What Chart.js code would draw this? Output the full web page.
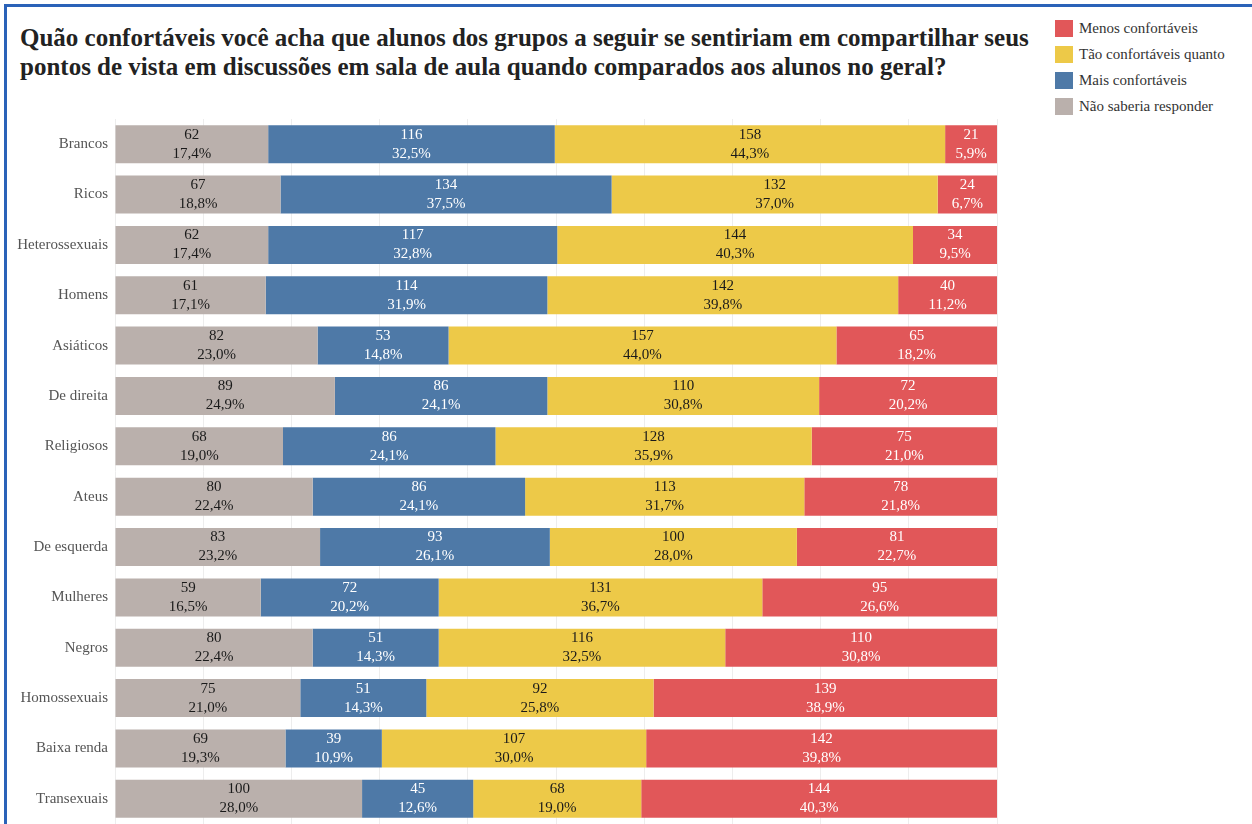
<!DOCTYPE html>
<html>
<head>
<meta charset="utf-8">
<script src="https://cdn.jsdelivr.net/npm/chart.js@4"></script>
<style>
  html, body { margin: 0; padding: 0; background: #fff; }
  #wrap { position: relative; width: 1252px; height: 824px; overflow: hidden; }
  #frame { position: absolute; left: 4px; top: 4px; right: 0; bottom: -10px;
           border-left: 3px solid #2a62b8; border-top: 3px solid #2a62b8; }
  #titulo { position: absolute; left: 20px; top: 23px; width: 1040px; white-space: nowrap;
            font-family: "Liberation Serif", serif; font-weight: bold; font-size: 25px;
            line-height: 29px; color: #222; }
  #legenda { position: absolute; left: 1055px; top: 20px;
             font-family: "Liberation Serif", serif; font-size: 15px; color: #333; }
  .item { height: 26px; display: flex; align-items: flex-start; }
  .cor { width: 18px; height: 17px; margin-right: 6px; }
  canvas { position: absolute; left: 0; top: 0; }
</style>
</head>
<body>
<div id="wrap">
  <div id="frame"></div>
  <div id="titulo">Quão confortáveis você acha que alunos dos grupos a seguir se sentiriam em compartilhar seus<br>pontos de vista em discussões em sala de aula quando comparados aos alunos no geral?</div>
  <div id="legenda"></div>
  <canvas id="grafico" width="1252" height="824"></canvas>
</div>
<script>
/* Grupos (eixo vertical) */
const grupos = ['Brancos', 'Ricos', 'Heterossexuais', 'Homens', 'Asiáticos', 'De direita', 'Religiosos',
                'Ateus', 'De esquerda', 'Mulheres', 'Negros', 'Homossexuais', 'Baixa renda', 'Transexuais'];

/* Respostas por grupo */
const naoSaberia = [62, 67, 62, 61, 82, 89, 68, 80, 83, 59, 80, 75, 69, 100];
const maisConf   = [116, 134, 117, 114, 53, 86, 86, 86, 93, 72, 51, 51, 39, 45];
const taoConf    = [158, 132, 144, 142, 157, 110, 128, 113, 100, 131, 116, 92, 107, 68];
const menosConf  = [21, 24, 34, 40, 65, 72, 75, 78, 81, 95, 110, 139, 142, 144];

const totalRespostas = 357;

/* Séries na ordem em que empilham da esquerda para a direita */
const series = [
    { nome: 'Não saberia responder', dados: naoSaberia, cor: '#bab0ac', texto: '#1a1a1a' },
    { nome: 'Mais confortáveis', dados: maisConf, cor: '#4e79a7', texto: '#ffffff' },
    { nome: 'Tão confortáveis quanto', dados: taoConf, cor: '#edc948', texto: '#1a1a1a' },
    { nome: 'Menos confortáveis', dados: menosConf, cor: '#e15759', texto: '#ffffff' }
];

/* Legenda em HTML (ordem inversa, como no original) */
const legenda = document.getElementById('legenda');
series.slice().reverse().forEach(function (s) {
    const item = document.createElement('div');
    item.className = 'item';
    item.innerHTML = '<div class="cor" style="background:' + s.cor + '"></div><span>' + s.nome + '</span>';
    legenda.appendChild(item);
});

/* Plugin simples para escrever valor e percentual dentro de cada barra */
const rotulos = {
    id: 'rotulos',
    afterDatasetsDraw(chart) {
        const ctx = chart.ctx;
        ctx.save();
        ctx.font = '15px "Liberation Serif", serif';
        ctx.textAlign = 'center';
        ctx.textBaseline = 'middle';
        chart.data.datasets.forEach(function (ds, i) {
            const meta = chart.getDatasetMeta(i);
            ctx.fillStyle = series[i].texto;
            meta.data.forEach(function (barra, j) {
                const valor = ds.data[j];
                let soma = 0;
                series.forEach(function (s) { soma += s.dados[j]; });
                const pct = (valor / soma * 100).toFixed(1).replace('.', ',') + '%';
                const x = (barra.x + barra.base) / 2;
                ctx.fillText(String(valor), x, barra.y - 9.5);
                ctx.fillText(pct, x, barra.y + 9.5);
            });
        });
        ctx.restore();
    }
};

new Chart(document.getElementById('grafico'), {
    type: 'bar',
    data: {
        labels: grupos,
        datasets: series.map(function (s) {
            return {
                label: s.nome,
                data: s.dados,
                backgroundColor: s.cor,
                borderWidth: 0,
                barPercentage: 0.755,
                categoryPercentage: 1
            };
        })
    },
    options: {
        indexAxis: 'y',
        responsive: false,
        animation: false,
        layout: { padding: { top: 119, right: 255, bottom: 0, left: 0 } },
        plugins: {
            legend: { display: false },
            tooltip: { enabled: false }
        },
        scales: {
            x: {
                stacked: true,
                min: 0,
                max: totalRespostas,
                ticks: { display: false, stepSize: totalRespostas / 10 },
                grid: { color: '#ededed', drawTicks: false },
                border: { display: false },
                afterFit(scale) {
                    scale.height = 0;
                    scale.paddingLeft = 0;
                    scale.paddingRight = 0;
                }
            },
            y: {
                stacked: true,
                ticks: {
                    color: '#555',
                    padding: 7,
                    font: { family: '"Liberation Serif", serif', size: 15 }
                },
                grid: { display: false, drawTicks: false },
                border: { display: false },
                afterFit(scale) {
                    scale.width = 115;
                    scale.paddingTop = 0;
                    scale.paddingBottom = 0;
                }
            }
        }
    },
    plugins: [rotulos]
});
</script>
</body>
</html>
